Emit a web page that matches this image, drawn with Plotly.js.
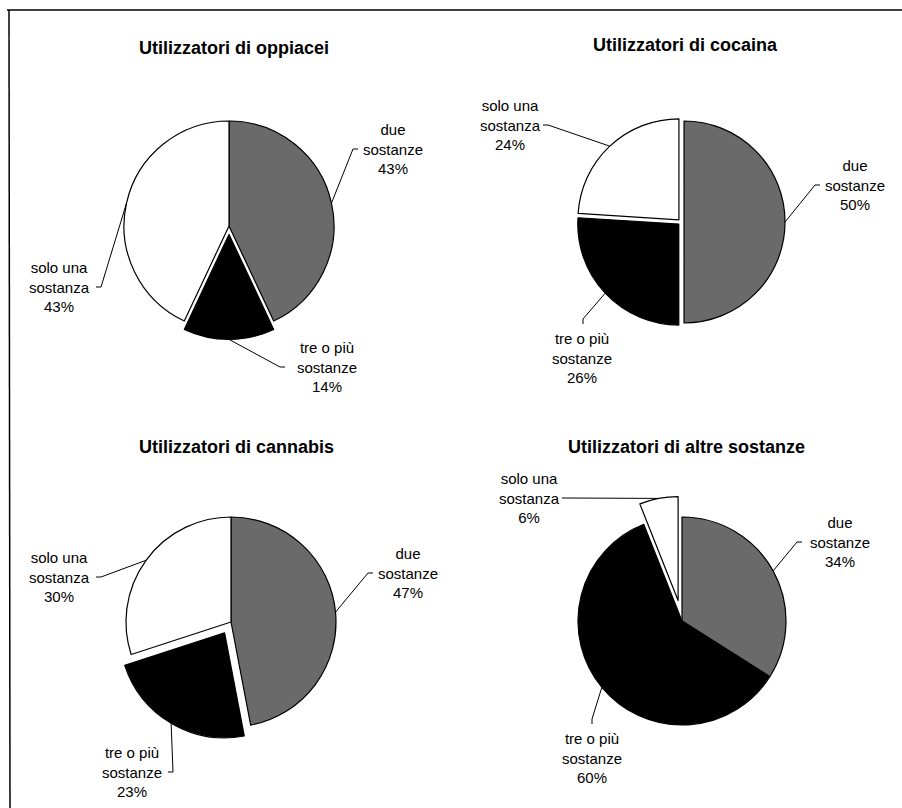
<!DOCTYPE html>
<html>
<head>
<meta charset="utf-8">
<script src="https://cdn.plot.ly/plotly-3.0.1.min.js"></script>
<style>html,body{margin:0;padding:0;background:#fff;}#chart{width:902px;height:808px;}</style>
</head>
<body>
<div id="chart"></div>
<script>
// ---- data ----
const categories = ['due sostanze', 'tre o più sostanze', 'solo una sostanza'];
const labelLines = ['due<br>sostanze', 'tre o più<br>sostanze', 'solo una<br>sostanza'];
const chartTitles = ['Utilizzatori di oppiacei', 'Utilizzatori di cocaina',
                     'Utilizzatori di cannabis', 'Utilizzatori di altre sostanze'];
const oppiacei = [43, 14, 43];
const cocaina  = [50, 26, 24];
const cannabis = [47, 23, 30];
const altre    = [34, 60, 6];
const seriesValues = [oppiacei, cocaina, cannabis, altre];

// ---- layout / style config (pixels) ----
const W = 902, H = 808;
const sliceColors = ['#6a6a6a', '#000000', '#ffffff'];
const pies = [
  {cx: 229, cy: 226, r: 105, pull: [0, 0.08, 0], title: [234, 48],
   labels: [[393, 149], [327, 367], [59, 287]],
   anchors: [[358, 149, 'h'], [285, 367, 'h'], [96, 287, 'h']]},
  {cx: 681, cy: 222, r: 101, pull: [0.03, 0.03, 0.03], title: [685, 45],
   labels: [[855, 185], [582, 358], [510, 125]],
   anchors: [[820, 185, 'h'], [583, 324, 'v'], [543, 125, 'h']]},
  {cx: 231, cy: 622, r: 105, pull: [0, 0.12, 0], title: [236, 447],
   labels: [[408, 573], [132, 772], [59, 577]],
   anchors: [[373, 573, 'h'], [168, 772, 'h'], [96, 577, 'h']]},
  {cx: 682, cy: 621, r: 104, pull: [0, 0, 0.2], title: [686, 447],
   labels: [[840, 542], [592, 758], [529, 498]],
   anchors: [[802, 542, 'h'], [592, 724, 'v'], [562, 498, 'h']]}
];

const px = x => x / W;
const py = y => 1 - y / H;

const traces = [];
const annotations = [];
const shapes = [];
const labelFont = {family: 'Liberation Sans, Arial, sans-serif', size: 15, color: '#000'};

pies.forEach((p, k) => {
  const vals = seriesValues[k];
  const maxPull = Math.max(...p.pull);
  const half = p.r * (1 + maxPull);
  traces.push({
    type: 'pie',
    labels: categories,
    values: vals,
    sort: false,
    direction: 'clockwise',
    rotation: 0,
    pull: p.pull,
    textinfo: 'none',
    hoverinfo: 'label+percent',
    marker: {colors: sliceColors, line: {color: '#000', width: 1.2}},
    domain: {x: [px(p.cx - half), px(p.cx + half)], y: [py(p.cy + half), py(p.cy - half)]},
    showlegend: false
  });
  // title
  annotations.push({
    xref: 'paper', yref: 'paper', x: px(p.title[0]), y: py(p.title[1]),
    xanchor: 'center', yanchor: 'middle', showarrow: false,
    text: '<b>' + chartTitles[k] + '</b>',
    font: {family: 'Liberation Sans, Arial, sans-serif', size: 18, color: '#000'}
  });
  // labels + leader lines
  const total = vals.reduce((a, b) => a + b, 0);
  let cum = 0;
  vals.forEach((v, i) => {
    const mid = (cum + v / 2) / total * 2 * Math.PI;
    cum += v;
    const rr = p.r * (1 + p.pull[i]);
    const tipX = p.cx + rr * Math.sin(mid);
    const tipY = p.cy - rr * Math.cos(mid);
    const [lx, ly] = p.labels[i];
    annotations.push({
      xref: 'paper', yref: 'paper', x: px(lx), y: py(ly),
      xanchor: 'center', yanchor: 'middle', showarrow: false, align: 'center',
      text: labelLines[i] + '<br>' + v + '%', font: labelFont
    });
    const [ax, ay, dir] = p.anchors[i];
    let bx = ax, by = ay;
    if (dir === 'h') bx = ax + Math.sign(tipX - ax) * 5;
    else by = ay + Math.sign(tipY - ay) * 5;
    shapes.push({
      type: 'path', xref: 'paper', yref: 'paper',
      path: `M ${px(ax)} ${py(ay)} L ${px(bx)} ${py(by)} L ${px(tipX)} ${py(tipY)}`,
      line: {color: '#000', width: 1}
    });
  });
});

// frame lines (top and left, as in the scanned original)
shapes.push({type: 'line', xref: 'paper', yref: 'paper', x0: px(7), y0: py(10), x1: 1, y1: py(10),
             line: {color: '#000', width: 1.5}});
shapes.push({type: 'line', xref: 'paper', yref: 'paper', x0: px(9), y0: py(10), x1: px(10), y1: 0,
             line: {color: '#000', width: 1.5}});

const layout = {
  width: W, height: H,
  margin: {l: 0, r: 0, t: 0, b: 0},
  paper_bgcolor: '#fff',
  plot_bgcolor: '#fff',
  showlegend: false,
  annotations: annotations,
  shapes: shapes
};

Plotly.newPlot('chart', traces, layout, {displayModeBar: false, staticPlot: true});
</script>
</body>
</html>
